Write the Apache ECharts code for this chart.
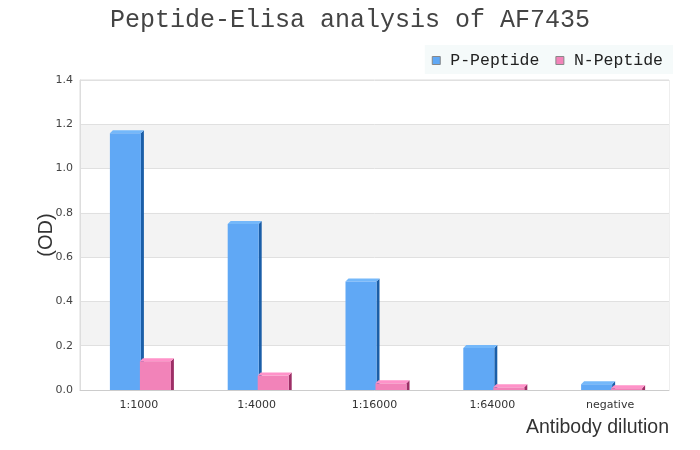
<!DOCTYPE html>
<html><head><meta charset="utf-8">
<script src="https://cdn.jsdelivr.net/npm/echarts@6/dist/echarts.min.js"></script>
<style>html,body{margin:0;padding:0;background:#fff}#c{width:700px;height:450px}</style>
</head><body><div id="c"></div>
<script>
const categories = ['1:1000', '1:4000', '1:16000', '1:64000', 'negative'];
const pValues = [1.16, 0.75, 0.49, 0.19, 0.026];
const nValues = [0.13, 0.065, 0.03, 0.012, 0.008];
const seriesNames = ['P-Peptide', 'N-Peptide'];

const styles = [
  {front: '#60a8f5', top: '#74b8fa', side: '#1a5ea8', off0: -29, off1: 2},
  {front: '#f283b9', top: '#ff92c9', side: '#9d2f66', off0: 1, off1: 32}
];
const depth = 3;

function makeRender(s) {
  return function (params, api) {
    const idx = api.value(0), val = api.value(1);
    const top = api.coord([idx, val]);
    const base = api.coord([idx, 0]);
    const band = api.size([1, 0])[0];
    const k = band / 117.8;
    const x0 = top[0] + s.off0 * k, x1 = top[0] + s.off1 * k;
    const y = top[1], b = base[1];
    return {
      type: 'group',
      children: [
        {type: 'polygon', shape: {points: [[x1, y], [x1 + depth, y - depth], [x1 + depth, b], [x1, b]]}, style: {fill: s.side}},
        {type: 'polygon', shape: {points: [[x0, y], [x0 + depth, y - depth], [x1 + depth, y - depth], [x1, y]]}, style: {fill: s.top}},
        {type: 'rect', shape: {x: x0, y: y, width: x1 - x0, height: b - y}, style: {fill: s.front}}
      ]
    };
  };
}

const chart = echarts.init(document.getElementById('c'));
chart.setOption({
  animation: false,
  title: {
    text: 'Peptide-Elisa analysis of AF7435',
    left: 'center', top: 3,
    textStyle: {fontFamily: 'Liberation Mono', fontSize: 25, fontWeight: 'normal', color: '#444'}
  },
  legend: {
    data: seriesNames,
    right: 27, top: 45,
    backgroundColor: '#f5fafa',
    padding: [7, 10, 5, 7],
    itemWidth: 8, itemHeight: 8, itemGap: 16,
    icon: 'rect',
    itemStyle: {borderColor: '#888', borderWidth: 1},
    textStyle: {fontFamily: 'Liberation Mono', fontSize: 16.5, color: '#222', padding: [0, 0, 0, 5]}
  },
  grid: {left: 80, right: 31, top: 80, bottom: 60, show: true, borderColor: '#ddd', borderWidth: 1, backgroundColor: 'transparent'},
  xAxis: {
    type: 'category', data: categories,
    axisTick: {show: false},
    axisLine: {lineStyle: {color: '#ccc'}},
    axisLabel: {color: '#333', fontSize: 11, margin: 10, fontFamily: 'DejaVu Sans'},
    name: 'Antibody dilution', nameLocation: 'end', nameGap: 0,
    nameTextStyle: {fontFamily: 'Liberation Sans', fontSize: 19.5, color: '#333', align: 'right', verticalAlign: 'top', padding: [28, 0, 0, 0]}
  },
  yAxis: {
    type: 'value', min: 0, max: 1.4, interval: 0.2,
    axisLine: {show: true, lineStyle: {color: '#ddd'}},
    axisTick: {show: false},
    axisLabel: {color: '#444', fontSize: 11, margin: 7, fontFamily: 'DejaVu Sans', formatter: v => v.toFixed(1)},
    splitLine: {lineStyle: {color: '#e0e0e0'}},
    splitArea: {show: true, areaStyle: {color: ['#ffffff', '#f3f3f3']}},
    name: '(OD)', nameLocation: 'middle', nameGap: 24, nameRotate: 90, nameMoveOverlap: false,
    nameTextStyle: {fontFamily: 'Liberation Sans', fontSize: 20, color: '#333'}
  },
  series: [
    {name: seriesNames[0], type: 'custom', renderItem: makeRender(styles[0]), itemStyle: {color: styles[0].front},
     encode: {x: 0, y: 1}, data: pValues.map((v, i) => [i, v])},
    {name: seriesNames[1], type: 'custom', renderItem: makeRender(styles[1]), itemStyle: {color: styles[1].front},
     encode: {x: 0, y: 1}, data: nValues.map((v, i) => [i, v])}
  ]
});
</script></body></html>
